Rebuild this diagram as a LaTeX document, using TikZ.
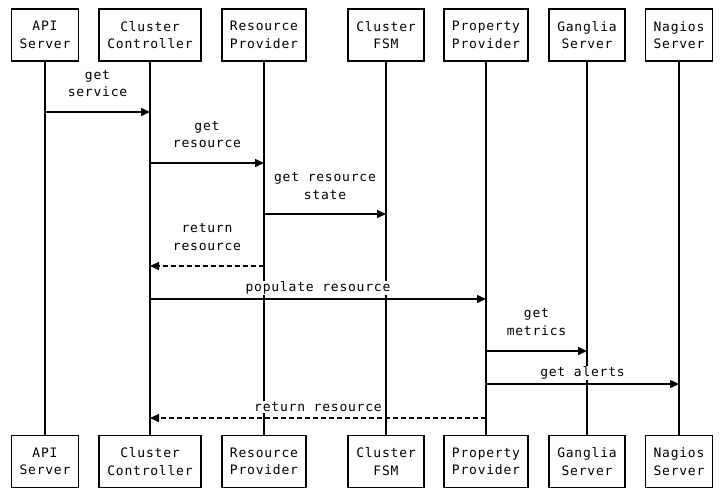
\documentclass[tikz,border=0pt]{standalone}
\usepackage{fontspec}
\setmainfont{DejaVu Sans Mono}[LetterSpace=6]
\usetikzlibrary{arrows.meta}
\tikzset{
  actor/.style={draw, line width=1.8pt, fill=white, align=center, inner xsep=8pt, inner ysep=0pt,
    minimum height=52pt, font=\fontsize{13}{17.5}\selectfont},
  life/.style={line width=1.4pt},
  msg/.style={line width=1.4pt, -{Triangle[length=9pt,width=8pt]}},
  ret/.style={msg, dash pattern=on 5pt off 3pt},
  lbl/.style={fill=white, inner sep=1pt, align=center, font=\fontsize{13}{17.5}\selectfont},
}
\begin{document}
\begin{tikzpicture}[x=1pt,y=-1pt]
\useasboundingbox (0,0) rectangle (725,499);
% top actors
\node[actor] (api) at (45,35) {API\\Server};
\node[actor] (cc) at (150,35) {Cluster\\Controller};
\node[actor] (rp) at (264,35) {Resource\\Provider};
\node[actor] (fsm) at (386,35) {Cluster\\FSM};
\node[actor] (pp) at (486,35) {Property\\Provider};
\node[actor] (gs) at (587,35) {Ganglia\\Server};
\node[actor] (ns) at (679,35) {Nagios\\Server};
% bottom actors
\node[actor] (apib) at (45,461.5) {API\\Server};
\node[actor] (ccb) at (150,461.5) {Cluster\\Controller};
\node[actor] (rpb) at (264,461.5) {Resource\\Provider};
\node[actor] (fsmb) at (386,461.5) {Cluster\\FSM};
\node[actor] (ppb) at (486,461.5) {Property\\Provider};
\node[actor] (gsb) at (587,461.5) {Ganglia\\Server};
\node[actor] (nsb) at (679,461.5) {Nagios\\Server};
% lifelines
\foreach \a in {api,cc,rp,fsm,pp,gs,ns}
  \draw[life] (\a.south) -- (\a b.north);
% message rows
\coordinate (m1) at (0,112);
\coordinate (m2) at (0,163);
\coordinate (m3) at (0,214);
\coordinate (m4) at (0,266);
\coordinate (m5) at (0,299);
\coordinate (m6) at (0,351);
\coordinate (m7) at (0,384);
\coordinate (m8) at (0,418);
% labels
\node[lbl] (l1) at (97.5,83.5) {get\\service};
\node[lbl] (l2) at (207,134.5) {get\\resource};
\node[lbl] (l3) at (325,186) {get resource\\state};
\node[lbl] (l4) at (207,237) {return\\resource};
\node[lbl] (l5) at (318,288) {populate resource};
\node[lbl] (l6) at (536.5,322) {get\\metrics};
\node[lbl] (l7) at (582.5,373) {get alerts};
\node[lbl] (l8) at (318,407) {return resource};
% messages
\draw[msg] (api |- m1) -- (cc |- m1);
\draw[msg] (cc |- m2) -- (rp |- m2);
\draw[msg] (rp |- m3) -- (fsm |- m3);
\draw[ret] (rp |- m4) -- (cc |- m4);
\draw[msg] (cc |- m5) -- (pp |- m5);
\draw[msg] (pp |- m6) -- (gs |- m6);
\draw[msg] (pp |- m7) -- (ns |- m7);
\draw[ret] (pp |- m8) -- (cc |- m8);
\end{tikzpicture}
\end{document}
